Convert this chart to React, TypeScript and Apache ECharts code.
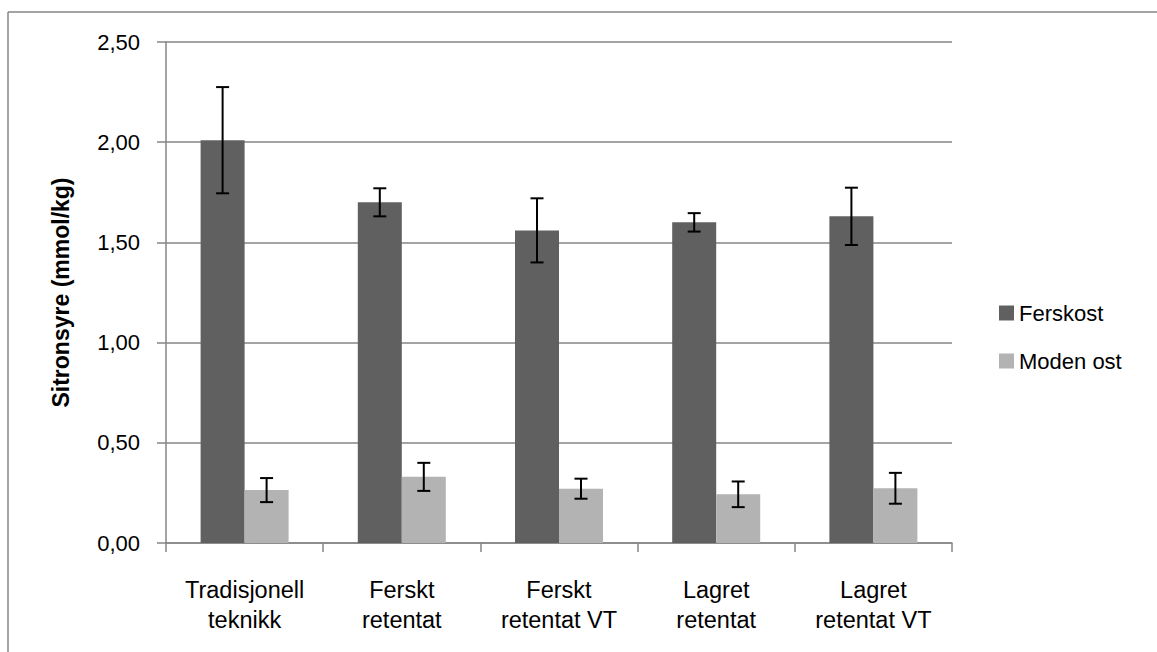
import React, { useEffect, useRef } from "react";
import * as echarts from "echarts";

const categories = ["Tradisjonell\nteknikk", "Ferskt\nretentat", "Ferskt\nretentat VT", "Lagret\nretentat", "Lagret\nretentat VT"];
const seriesNames = ["Ferskost", "Moden ost"];
const ferskost = [2.01, 1.70, 1.56, 1.60, 1.63];
const ferskostErr = [0.265, 0.07, 0.16, 0.046, 0.143];
const modenOst = [0.264, 0.33, 0.271, 0.243, 0.273];
const modenOstErr = [0.06, 0.07, 0.05, 0.064, 0.077];
const yTicks = { min: 0, max: 2.5, interval: 0.5 };

const FONT = "Liberation Sans";
const BAR_W = 44;

function errorSeries(values: number[], errs: number[], offset: number) {
  return {
    type: "custom",
    silent: true,
    z: 10,
    data: values.map((v, i) => [i, v - errs[i], v + errs[i]]),
    renderItem: (params: any, api: any) => {
      const i = api.value(0);
      const lo = api.coord([i, api.value(1)]);
      const hi = api.coord([i, api.value(2)]);
      const x = lo[0] + offset;
      const cap = 6.5;
      const style = { stroke: "#000", lineWidth: 2 };
      return {
        type: "group",
        children: [
          { type: "line", shape: { x1: x, y1: lo[1], x2: x, y2: hi[1] }, style },
          { type: "line", shape: { x1: x - cap, y1: lo[1], x2: x + cap, y2: lo[1] }, style },
          { type: "line", shape: { x1: x - cap, y1: hi[1], x2: x + cap, y2: hi[1] }, style },
        ],
      };
    },
  };
}

export default function App() {
  const ref = useRef<HTMLDivElement>(null);
  useEffect(() => {
    const chart = echarts.init(ref.current!, undefined, { renderer: "svg" });
    chart.setOption({
      animation: false,
      backgroundColor: "#fff",
      textStyle: { fontFamily: FONT },
      grid: { left: 166, top: 42, right: 205, bottom: 109, containLabel: false },
      legend: {
        orient: "vertical",
        left: 994,
        top: 297,
        itemWidth: 15,
        itemHeight: 15,
        itemGap: 26,
        icon: "rect",
        data: seriesNames,
        textStyle: { fontSize: 22, color: "#000", fontFamily: FONT, padding: [0, 0, 0, 0] },
        selectedMode: false,
      },
      xAxis: {
        type: "category",
        data: categories,
        axisLine: { lineStyle: { color: "#868686", width: 1.5 } },
        axisTick: { show: true, length: 9, alignWithLabel: false, lineStyle: { color: "#868686", width: 1.5 } },
        axisLabel: { color: "#000", fontSize: 23.5, lineHeight: 30, margin: 32, interval: 0, fontFamily: FONT },
      },
      yAxis: {
        type: "value",
        min: yTicks.min,
        max: yTicks.max,
        interval: yTicks.interval,
        name: "Sitronsyre (mmol/kg)",
        nameLocation: "middle",
        nameGap: 94,
        nameTextStyle: { fontSize: 23, fontWeight: "bold", color: "#000", fontFamily: FONT },
        axisLine: { show: true, lineStyle: { color: "#868686", width: 1.5 } },
        axisTick: { show: true, length: 9, lineStyle: { color: "#868686", width: 1.5 } },
        axisLabel: {
          color: "#000",
          fontSize: 22,
          margin: 26,
          fontFamily: FONT,
          formatter: (v: number) => v.toFixed(2).replace(".", ","),
        },
        splitLine: { lineStyle: { color: "#868686", width: 1.5 } },
      },
      series: [
        { name: seriesNames[0], type: "bar", data: ferskost, barWidth: BAR_W, barGap: "0%", itemStyle: { color: "#606060" } },
        { name: seriesNames[1], type: "bar", data: modenOst, barWidth: BAR_W, barGap: "0%", itemStyle: { color: "#b3b3b3" } },
        errorSeries(ferskost, ferskostErr, -BAR_W / 2),
        errorSeries(modenOst, modenOstErr, BAR_W / 2),
      ],
      graphic: [
        { type: "line", shape: { x1: 8, y1: 12, x2: 1157, y2: 12 }, style: { stroke: "#868686", lineWidth: 1.5 } },
        { type: "line", shape: { x1: 8, y1: 12, x2: 8, y2: 652 }, style: { stroke: "#868686", lineWidth: 1.5 } },
      ],
    });
    return () => chart.dispose();
  }, []);
  return <div ref={ref} style={{ position: "fixed", left: 0, top: 0, width: 1157, height: 652 }} />;
}
